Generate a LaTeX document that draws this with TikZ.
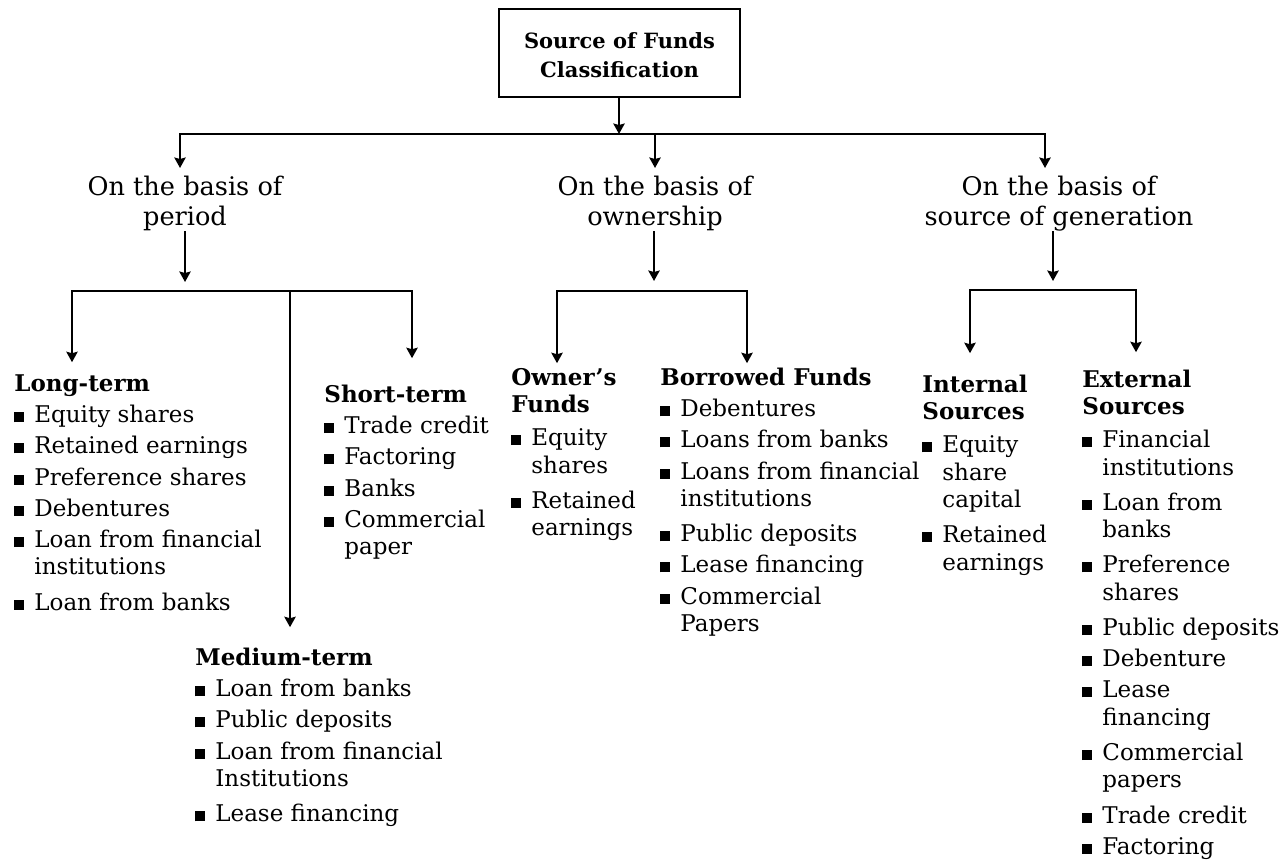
\documentclass[tikz,border=0pt]{standalone}
\usepackage{fontspec}
\setmainfont{DejaVu Serif}
\usetikzlibrary{arrows.meta}
% square bullet and the matching indent for wrapped lines
\newcommand{\bul}{\makebox[10pt][l]{\raisebox{0.2pt}{\rule{5pt}{5pt}}}}
\newcommand{\ind}{\hspace*{10pt}}
\newcommand{\cnt}{\\[-1.9pt]}
\newcommand{\gap}{\\[2pt]}
\begin{document}
\begin{tikzpicture}[x=0.5pt,y=-0.5pt,
  line/.style={line width=1.2pt,line cap=rect},
  arr/.style={line width=1.2pt,-{Stealth[length=5.2pt,width=5.6pt,inset=0.7pt]}},
  col/.style={anchor=north west,inner sep=0pt,align=left,font=\fontsize{11.5}{15.6}\selectfont},
  basis/.style={anchor=north,inner sep=0pt,align=center,font=\fontsize{12.8}{15}\selectfont},
]
\useasboundingbox (0,0) rectangle (1286,863);

% root
\node[draw,line width=1.2pt,minimum width=120.5pt,minimum height=44pt,inner sep=0pt,
      align=center,font=\bfseries\fontsize{10.5}{14.5}\selectfont] (top) at (619.5,53)
      {\rule{0pt}{10.5pt}Source of Funds\\Classification};

% three bases of classification
\node[basis] (period) at (185,174) {\strut On the basis of\\period};
\node[basis] (owner)  at (655,174) {\strut On the basis of\\ownership};
\node[basis] (source) at (1059,174) {\strut On the basis of\\source of generation};

% period
\node[col] (long) at (14,369.2) {\strut\textbf{Long-term}\\
\bul Equity shares\\
\bul Retained earnings\\
\bul Preference shares\\
\bul Debentures\\
\bul Loan from financial\cnt
\ind institutions\gap
\bul Loan from banks};

\node[col] (short) at (324,380.2) {\strut\textbf{Short-term}\\
\bul Trade credit\\
\bul Factoring\\
\bul Banks\\
\bul Commercial\cnt
\ind paper};

\node[col] (medium) at (195,643.2) {\strut\textbf{Medium-term}\\
\bul Loan from banks\\
\bul Public deposits\\
\bul Loan from financial\cnt
\ind Institutions\gap
\bul Lease financing};

% ownership
\node[col] (owners) at (511,363.2) {\strut\textbf{Owner's}\cnt
\textbf{Funds}\\[0.8pt]
\bul Equity\cnt
\ind shares\gap
\bul Retained\cnt
\ind earnings};

\node[col] (borrowed) at (660,363.2) {\strut\textbf{Borrowed Funds}\\
\bul Debentures\\
\bul Loans from banks\\
\bul Loans from financial\cnt
\ind institutions\gap
\bul Public deposits\\
\bul Lease financing\\
\bul Commercial\cnt
\ind Papers};

% source of generation
\node[col] (internal) at (922,370.2) {\strut\textbf{Internal}\cnt
\textbf{Sources}\\[0.8pt]
\bul Equity\cnt
\ind share\cnt
\ind capital\gap
\bul Retained\cnt
\ind earnings};

\node[col] (external) at (1082,365.2) {\strut\textbf{External}\cnt
\textbf{Sources}\\[0.8pt]
\bul Financial\cnt
\ind institutions\gap
\bul Loan from\cnt
\ind banks\gap
\bul Preference\cnt
\ind shares\gap
\bul Public deposits\\
\bul Debenture\\
\bul Lease\cnt
\ind financing\gap
\bul Commercial\cnt
\ind papers\gap
\bul Trade credit\\
\bul Factoring};

% first level
\coordinate (t0) at (619,134);
\coordinate (tL) at (180,134);
\coordinate (tM) at (655,134);
\coordinate (tR) at (1045,134);
\draw[arr] (top.south -| t0) -- (t0);
\draw[line] (tL) -- (tR);
\draw[arr,shorten >=3pt] (tL) -- (tL |- period.north);
\draw[arr,shorten >=3pt] (tM) -- (tM |- owner.north);
\draw[arr,shorten >=3pt] (tR) -- (tR |- source.north);

% period branch
\coordinate (pd) at (185,282);
\coordinate (p1) at (72,291);
\coordinate (p2) at (290,291);
\coordinate (p3) at (412,291);
\draw[arr] (period.south -| pd) -- (pd);
\draw[line] (p1) -- (p3);
\draw[arr,shorten >=3.5pt] (p1) -- (p1 |- long.north);
\draw[arr,shorten >=8pt] (p2) -- (p2 |- medium.north);
\draw[arr,shorten >=11pt] (p3) -- (p3 |- short.north);

% ownership branch
\coordinate (od) at (654,281);
\coordinate (o1) at (557,291);
\coordinate (o2) at (747,291);
\draw[arr] (owner.south -| od) -- (od);
\draw[line] (o1) -- (o2);
\draw[arr] (o1) -- (o1 |- owners.north);
\draw[arr] (o2) -- (o2 |- borrowed.north);

% source of generation branch
\coordinate (sd) at (1053,281);
\coordinate (s1) at (970,290);
\coordinate (s2) at (1136,290);
\draw[arr] (source.south -| sd) -- (sd);
\draw[line] (s1) -- (s2);
\draw[arr,shorten >=8.5pt] (s1) -- (s1 |- internal.north);
\draw[arr,shorten >=6.5pt] (s2) -- (s2 |- external.north);
\end{tikzpicture}
\end{document}
